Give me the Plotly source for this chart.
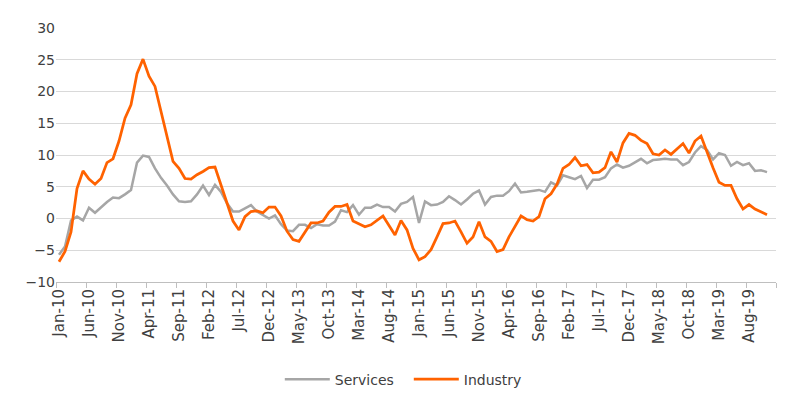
import pandas as pd
import plotly.graph_objects as go

# monthly observations Jan-10 .. Nov-19 (axis runs on to Dec-19)
months = pd.date_range("2010-01-01", "2019-11-01", freq="MS").strftime("%b-%y").tolist()
n_axis = 120

tick_labels = ["Jan-10", "Jun-10", "Nov-10", "Apr-11", "Sep-11", "Feb-12", "Jul-12", "Dec-12",
               "May-13", "Oct-13", "Mar-14", "Aug-14", "Jan-15", "Jun-15", "Nov-15", "Apr-16",
               "Sep-16", "Feb-17", "Jul-17", "Dec-17", "May-18", "Oct-18", "Mar-19", "Aug-19"]

services = [
    -5.7, -4.4, -0.3, 0.3, -0.3, 1.7, 0.9, 1.8, 2.6, 3.3,
    3.2, 3.8, 4.5, 8.8, 9.9, 9.7, 7.9, 6.4, 5.2, 3.8,
    2.7, 2.6, 2.7, 3.8, 5.2, 3.7, 5.3, 4.2, 2.4, 1.1,
    1.1, 1.6, 2.1, 1.1, 0.5, 0.0, 0.5, -0.9, -1.9, -2.0,
    -1.0, -1.0, -1.5, -0.9, -1.1, -1.1, -0.5, 1.3, 1.0, 2.1,
    0.6, 1.7, 1.7, 2.2, 1.8, 1.8, 1.1, 2.3, 2.6, 3.4,
    -0.7, 2.7, 2.1, 2.2, 2.6, 3.5, 2.9, 2.2, 3.0, 3.9,
    4.4, 2.2, 3.4, 3.6, 3.6, 4.3, 5.5, 4.1, 4.2, 4.4,
    4.5, 4.2, 5.7, 5.2, 6.8, 6.5, 6.2, 6.7, 4.8, 6.1,
    6.1, 6.5, 7.9, 8.5, 8.0, 8.3, 8.9, 9.4, 8.7, 9.2,
    9.3, 9.4, 9.3, 9.3, 8.4, 8.9, 10.4, 11.4, 10.8, 9.3,
    10.3, 10.0, 8.3, 8.9, 8.4, 8.7, 7.5, 7.6, 7.3,
]

industry = [
    -6.8, -5.2, -2.1, 4.7, 7.5, 6.2, 5.4, 6.3, 8.8, 9.4,
    12.2, 15.8, 17.9, 22.8, 25.1, 22.4, 20.8, 16.8, 12.7, 9.0,
    7.9, 6.3, 6.2, 6.9, 7.4, 8.0, 8.1, 5.3, 2.6, -0.4,
    -1.8, 0.3, 1.1, 1.2, 0.9, 1.8, 1.8, 0.4, -2.0, -3.3,
    -3.6, -2.1, -0.7, -0.7, -0.4, 1.0, 1.9, 1.9, 2.2, -0.4,
    -0.9, -1.3, -1.0, -0.3, 0.4, -1.1, -2.6, -0.3, -1.8, -4.7,
    -6.5, -6.0, -4.9, -2.9, -0.8, -0.7, -0.4, -2.1, -3.9, -2.9,
    -0.5, -2.9, -3.6, -5.2, -4.9, -2.9, -1.2, 0.4, -0.2, -0.4,
    0.3, 3.1, 3.9, 5.4, 7.9, 8.5, 9.6, 8.3, 8.5, 7.2,
    7.3, 8.0, 10.5, 8.9, 11.9, 13.4, 13.1, 12.3, 11.8, 10.2,
    10.0, 10.8, 10.1, 11.0, 11.8, 10.3, 12.2, 13.0, 10.4, 8.0,
    5.7, 5.2, 5.2, 3.1, 1.5, 2.2, 1.5, 1.0, 0.6,
]

# position of each month on the axis; labels every 5th month, tick marks between months
x_pos = list(range(len(months)))
label_pos = [months.index(lab) for lab in tick_labels]
boundary_pos = [p - 0.5 for p in range(0, n_axis + 1, 5)]

fig = go.Figure()
fig.add_trace(go.Scatter(x=x_pos, y=services, name="Services", mode="lines",
                         text=months, hovertemplate="%{text}: %{y}<extra>Services</extra>",
                         line=dict(color="#a6a6a6", width=2.5)))
fig.add_trace(go.Scatter(x=x_pos, y=industry, name="Industry", mode="lines",
                         text=months, hovertemplate="%{text}: %{y}<extra>Industry</extra>",
                         line=dict(color="#ff6200", width=2.75)))

# page body adds an 8px margin, so the figure is sized 8px smaller than the window
fig.update_layout(
    width=792, height=404,
    margin=dict(l=48, r=24, t=16, b=130),
    paper_bgcolor="white", plot_bgcolor="white",
    font=dict(family="DejaVu Sans, sans-serif", size=14, color="#404040"),
    showlegend=True,
    legend=dict(orientation="h", x=0.49, xanchor="center", y=-0.384, yanchor="middle",
                font=dict(size=14, color="#404040"),
                itemwidth=45, entrywidth=69, entrywidthmode="pixels"),
)
fig.update_xaxes(
    range=[-0.5, n_axis - 0.5],
    tickmode="array", tickvals=label_pos, ticktext=tick_labels,
    tickangle=-90, ticks="", showline=True, linecolor="#bfbfbf", linewidth=1,
    minor=dict(tickmode="array", tickvals=boundary_pos, ticks="outside", ticklen=5,
               tickcolor="#bfbfbf", showgrid=False),
    showgrid=False, zeroline=False, tickfont=dict(size=15),
)
fig.update_yaxes(
    range=[-10, 30], dtick=5, showgrid=True, gridcolor="#d9d9d9", gridwidth=1,
    zeroline=False, showline=False, ticks="", tickfont=dict(size=14),
)

fig.write_html("out.html")
